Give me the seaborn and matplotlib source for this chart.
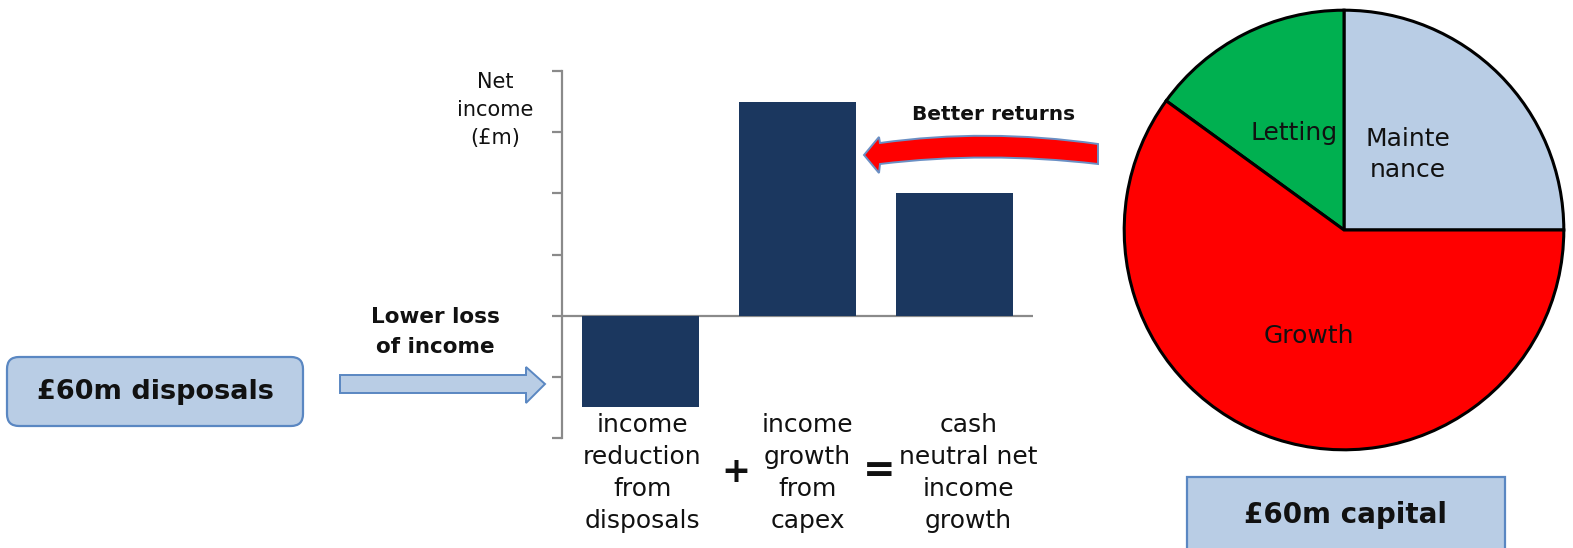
import numpy as np
import pandas as pd
import matplotlib
matplotlib.use("Agg")
import matplotlib.pyplot as plt
from matplotlib.path import Path
from matplotlib.patches import PathPatch, FancyBboxPatch, Rectangle, Polygon
import seaborn as sns

# ---- data -------------------------------------------------------------
bar_labels = ["income\nreduction\nfrom\ndisposals",
              "income\ngrowth\nfrom\ncapex",
              "cash\nneutral net\nincome\ngrowth"]
bar_values = [-1.5, 3.5, 2.0]          # net income, £m
y_ticks = [-2, -1, 0, 1, 2, 3, 4]

pie_labels = ["Mainte\nnance", "Letting", "Growth"]
pie_values = [15, 9, 36]               # £m of the £60m capital
pie_colors = ["#b9cde5", "#00b050", "#ff0000"]

# ---- figure -----------------------------------------------------------
sns.set_theme(style="white")
plt.rcParams["font.family"] = ["DejaVu Sans"]

W, H = 1573, 548
fig = plt.figure(figsize=(W / 100, H / 100), dpi=100)

def px_axes(left, top, width, height):
    """Axes placed by pixel box (origin top-left)."""
    return fig.add_axes([left / W, (H - top - height) / H, width / W, height / H])

BAR_COLOR = "#1b375f"
AXIS_GREY = "#8a8a8a"
BOX_FILL = "#b9cde5"
BOX_EDGE = "#5a87c2"
TEXT = "#111111"

# ---- bar chart --------------------------------------------------------
ax = px_axes(562, 71, 471, 367)
df = pd.DataFrame({"item": bar_labels, "value": bar_values})
sns.barplot(data=df, x="item", y="value", color=BAR_COLOR, saturation=1,
            width=0.74, linewidth=0, ax=ax)
ax.set_xlim(-0.5, 2.5)
ax.set_ylim(y_ticks[0], y_ticks[-1])
ax.set_yticks(y_ticks)
ax.set_yticklabels([])
ax.set_xticks([])
ax.set_xlabel("")
ax.set_ylabel("")
for s in ["top", "right", "bottom"]:
    ax.spines[s].set_visible(False)
ax.spines["left"].set_color(AXIS_GREY)
ax.spines["left"].set_linewidth(1.6)
ax.tick_params(axis="y", left=True, length=7, width=1.6, color=AXIS_GREY,
               direction="out")
ax.axhline(0, color=AXIS_GREY, lw=1.6, zorder=0)
ax.patch.set_alpha(0)

# category captions under the bars (text boxes sit a little right of centre)
label_shift = [0.013, 0.064, 0.09]
for i, lab in enumerate(bar_labels):
    ax.text(i + label_shift[i], -2.574, lab, ha="center", va="center",
            fontsize=18, linespacing=1.42, color=TEXT, clip_on=False)

# ---- pie chart --------------------------------------------------------
r = 222
pax = px_axes(1344 - r, 230 - r, 2 * r, 2 * r)
pax.pie(pie_values, colors=pie_colors, startangle=0, counterclock=True,
        radius=1.0,
        wedgeprops=dict(edgecolor="black", linewidth=2.2))
pax.set_xlim(-1.01, 1.01)
pax.set_ylim(-1.01, 1.01)
pax.set_aspect("equal")
pax.axis("off")
label_pos = [(0.29, 0.345), (-0.225, 0.44), (-0.16, -0.48)]
for lab, (lx, ly) in zip(pie_labels, label_pos):
    pax.text(lx, ly, lab, ha="center", va="center", fontsize=18,
             linespacing=1.38, color=TEXT)

# ---- annotations overlay (pixel coordinates) --------------------------
ov = fig.add_axes([0, 0, 1, 1])
ov.set_xlim(0, W)
ov.set_ylim(H, 0)
ov.axis("off")
ov.patch.set_alpha(0)

# "£60m disposals" rounded box
ov.add_patch(FancyBboxPatch((7, 357), 296, 69,
                            boxstyle="round,pad=0,rounding_size=12",
                            fc=BOX_FILL, ec=BOX_EDGE, lw=1.6))
ov.text(155, 392, "£60m disposals", ha="center", va="center",
        fontsize=19.5, fontweight="bold", color=TEXT)

# blue block arrow
ov.add_patch(Polygon([(340, 375), (526, 375), (526, 367), (545, 384),
                      (526, 403), (526, 393), (340, 393)],
                     closed=True, fc=BOX_FILL, ec=BOX_EDGE, lw=1.4))
ov.text(435, 332, "Lower loss\nof income", ha="center", va="center",
        fontsize=15.5, fontweight="bold", linespacing=1.62, color=TEXT)

# "+" and "=" between the bar captions
ov.text(736, 472, "+", ha="center", va="center", fontsize=25,
        fontweight="bold", color=TEXT)
ov.text(879, 471, "=", ha="center", va="center", fontsize=28,
        fontweight="bold", color=TEXT)

# curved red arrow
verts = [(1098, 144), (986, 128), (880, 143),   # top edge
         (879, 137), (864, 155), (879, 173),    # head
         (880, 164), (986, 151), (1098, 164),   # bottom edge
         (1098, 144)]
codes = [Path.MOVETO, Path.CURVE3, Path.CURVE3,
         Path.LINETO, Path.LINETO, Path.LINETO,
         Path.LINETO, Path.CURVE3, Path.CURVE3,
         Path.CLOSEPOLY]
ov.add_patch(PathPatch(Path(verts, codes), fc="#ff0000", ec="#6a8fc4",
                       lw=1.4))
ov.text(994, 115, "Better returns", ha="center", va="center",
        fontsize=14.5, fontweight="bold", color=TEXT)

# "£60m capital" box
ov.add_patch(Rectangle((1187, 477), 318, 80, fc=BOX_FILL, ec=BOX_EDGE,
                       lw=1.6, clip_on=False))
ov.text(1346, 515, "£60m capital", ha="center", va="center",
        fontsize=20, fontweight="bold", color=TEXT)

# y-axis caption
ov.text(495, 110, "Net\nincome\n(£m)", ha="center", va="center",
        fontsize=15, linespacing=1.53, color=TEXT)

fig.savefig("out.png", dpi=100, facecolor="white")
